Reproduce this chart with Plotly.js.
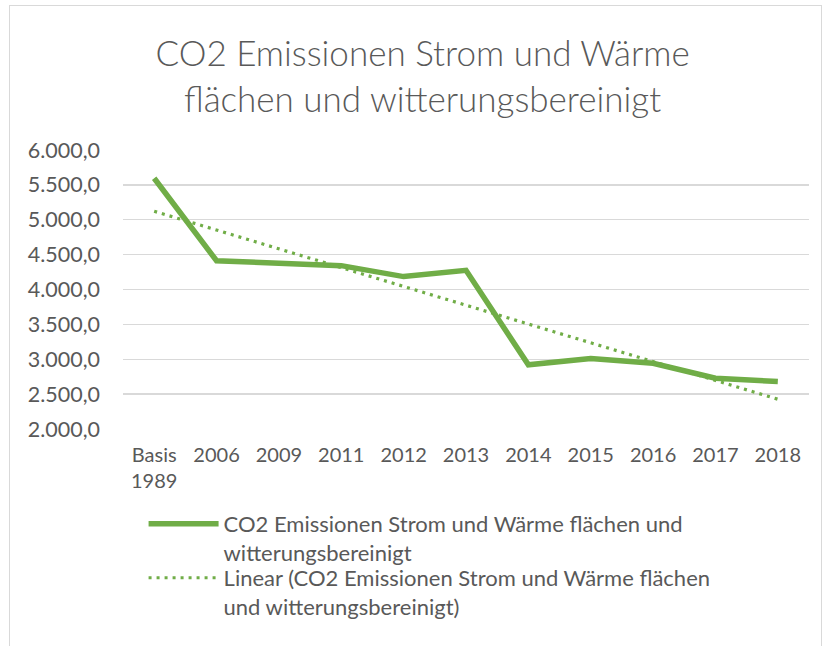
<!DOCTYPE html>
<html>
<head>
<meta charset="utf-8">
<script src="https://cdn.plot.ly/plotly-3.0.1.min.js"></script>
<style>
  html, body { margin: 0; padding: 0; background: #ffffff; }
  #chart { width: 827px; height: 646px; position: absolute; left: 0; top: 0; }
  #frame { position: absolute; left: 9px; top: 5px; width: 813px; height: 700px;
           border: 1px solid #d9d9d9; pointer-events: none; box-sizing: border-box; }
</style>
</head>
<body>
<div id="chart"></div>
<div id="frame"></div>
<script>
// Categories (x axis)
const categories = ["Basis<br>1989", "2006", "2009", "2011", "2012", "2013", "2014", "2015", "2016", "2017", "2018"];
// CO2 emissions (heat & power, area and weather adjusted)
const emissions = [5595, 4412, 4378, 4342, 4185, 4275, 2920, 3012, 2942, 2728, 2680];
// Linear trend line end points
const trendCategories = ["Basis<br>1989", "2018"];
const trendValues = [5122, 2427];
// Y axis ticks
const yTicks = [2000, 2500, 3000, 3500, 4000, 4500, 5000, 5500, 6000];

const seriesName = "CO2 Emissionen Strom und Wärme flächen und<br>witterungsbereinigt";
const trendName = "Linear (CO2 Emissionen Strom und Wärme flächen<br>und witterungsbereinigt)";

const green = "#70AD47";
const textGrey = "#595959";
const font = "Lato, 'Open Sans', sans-serif";

const traces = [
  {
    x: categories, y: emissions, type: "scatter", mode: "lines",
    name: seriesName,
    line: { color: green, width: 5.5, shape: "linear" },
    legend: "legend",
    hoverinfo: "skip"
  },
  {
    x: trendCategories, y: trendValues, type: "scatter", mode: "lines",
    name: trendName,
    line: { color: green, width: 3.2, dash: "3px,5px" },
    legend: "legend2",
    hoverinfo: "skip"
  }
];

const legendCommon = {
  orientation: "v",
  x: 0.03, xanchor: "left",
  yanchor: "top",
  valign: "top",
  itemwidth: 70,
  font: { family: font, size: 22, color: textGrey },
  bgcolor: "rgba(0,0,0,0)"
};

const layout = {
  width: 827, height: 646,
  paper_bgcolor: "rgba(0,0,0,0)",
  plot_bgcolor: "#ffffff",
  separators: ",.",
  font: { family: font, color: textGrey, size: 20 },
  margin: { l: 123, r: 18, t: 150, b: 217, pad: 0 },
  title: {
    text: "CO2 Emissionen Strom und Wärme<br>flächen und witterungsbereinigt",
    font: { family: font, size: 35, color: textGrey, weight: 300 },
    x: 0.511, xanchor: "center", xref: "container",
    y: 1 - 66 / 646, yanchor: "top", yref: "container"
  },
  xaxis: {
    type: "category",
    categoryorder: "array", categoryarray: categories,
    range: [-0.5, 10.5],
    showgrid: false, zeroline: false, showline: false,
    ticks: "", ticklabelstandoff: 12,
    tickfont: { family: font, size: 20, color: textGrey },
    fixedrange: true
  },
  yaxis: {
    range: [2000, 6000],
    tickvals: yTicks,
    tickformat: ",.1f",
    showgrid: true, gridcolor: "#d9d9d9", gridwidth: 1.3,
    zeroline: false, showline: false,
    ticks: "", ticklabelstandoff: 22,
    tickfont: { family: font, size: 21.5, color: textGrey },
    fixedrange: true
  },
  showlegend: true,
  legend: Object.assign({}, legendCommon, { y: -0.265 }),
  legend2: Object.assign({}, legendCommon, { y: -0.4586 })
};

Plotly.newPlot("chart", traces, layout, { staticPlot: true, displayModeBar: false });
</script>
</body>
</html>
